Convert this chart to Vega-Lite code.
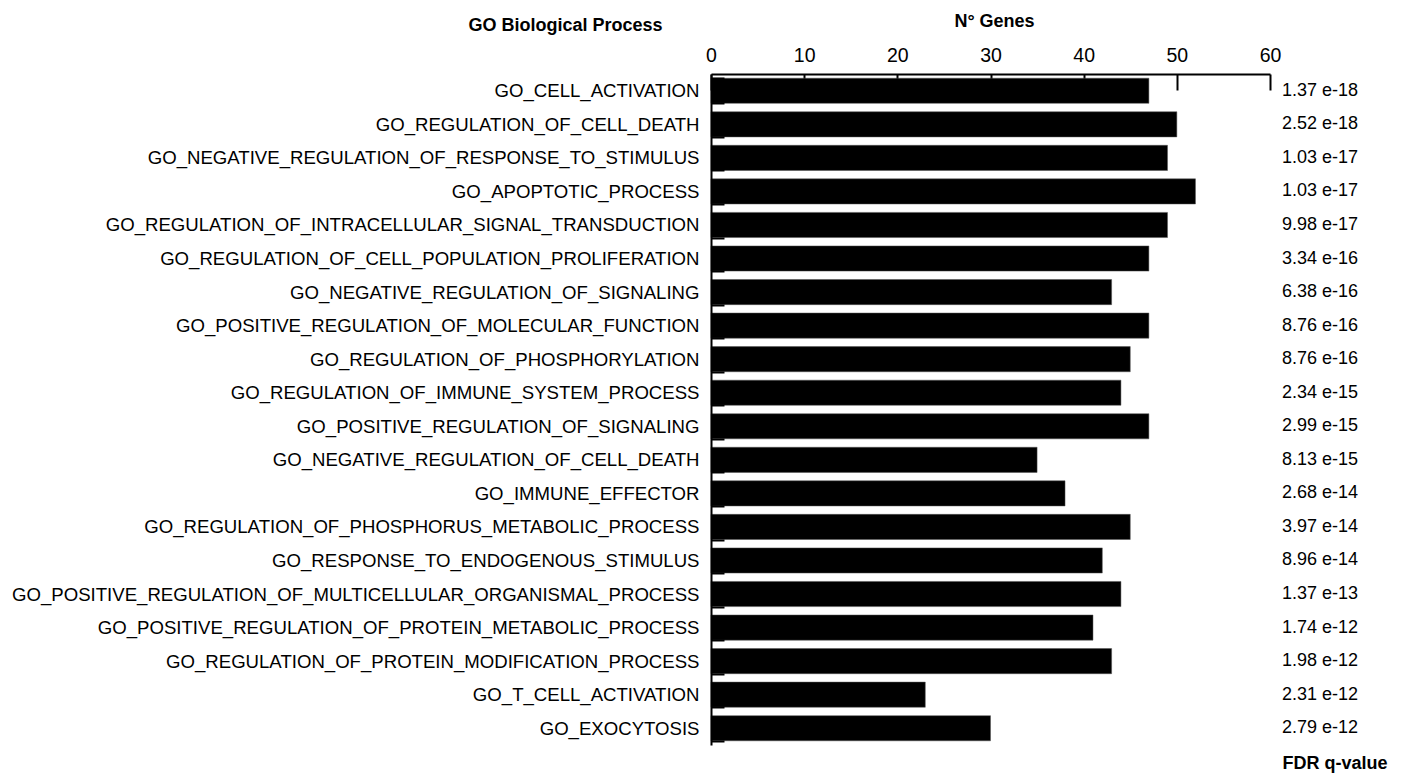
{
  "$schema": "https://vega.github.io/schema/vega-lite/v6.json",
  "width": 559,
  "height": 671,
  "autosize": {"type": "none"},
  "padding": {"left": 711, "top": 74, "right": 140, "bottom": 31},
  "background": "white",
  "config": {
    "view": {"stroke": null},
    "font": "Liberation Sans",
    "axis": {"labelFont": "Liberation Sans", "titleFont": "Liberation Sans", "labelColor": "#000", "titleColor": "#000", "domainColor": "#000", "tickColor": "#000", "grid": false}
  },
  "data": {
    "values": [
      {"term": "GO_CELL_ACTIVATION", "genes": 47, "fdr": "1.37 e-18"},
      {"term": "GO_REGULATION_OF_CELL_DEATH", "genes": 50, "fdr": "2.52 e-18"},
      {"term": "GO_NEGATIVE_REGULATION_OF_RESPONSE_TO_STIMULUS", "genes": 49, "fdr": "1.03 e-17"},
      {"term": "GO_APOPTOTIC_PROCESS", "genes": 52, "fdr": "1.03 e-17"},
      {"term": "GO_REGULATION_OF_INTRACELLULAR_SIGNAL_TRANSDUCTION", "genes": 49, "fdr": "9.98 e-17"},
      {"term": "GO_REGULATION_OF_CELL_POPULATION_PROLIFERATION", "genes": 47, "fdr": "3.34 e-16"},
      {"term": "GO_NEGATIVE_REGULATION_OF_SIGNALING", "genes": 43, "fdr": "6.38 e-16"},
      {"term": "GO_POSITIVE_REGULATION_OF_MOLECULAR_FUNCTION", "genes": 47, "fdr": "8.76 e-16"},
      {"term": "GO_REGULATION_OF_PHOSPHORYLATION", "genes": 45, "fdr": "8.76 e-16"},
      {"term": "GO_REGULATION_OF_IMMUNE_SYSTEM_PROCESS", "genes": 44, "fdr": "2.34 e-15"},
      {"term": "GO_POSITIVE_REGULATION_OF_SIGNALING", "genes": 47, "fdr": "2.99 e-15"},
      {"term": "GO_NEGATIVE_REGULATION_OF_CELL_DEATH", "genes": 35, "fdr": "8.13 e-15"},
      {"term": "GO_IMMUNE_EFFECTOR", "genes": 38, "fdr": "2.68 e-14"},
      {"term": "GO_REGULATION_OF_PHOSPHORUS_METABOLIC_PROCESS", "genes": 45, "fdr": "3.97 e-14"},
      {"term": "GO_RESPONSE_TO_ENDOGENOUS_STIMULUS", "genes": 42, "fdr": "8.96 e-14"},
      {"term": "GO_POSITIVE_REGULATION_OF_MULTICELLULAR_ORGANISMAL_PROCESS", "genes": 44, "fdr": "1.37 e-13"},
      {"term": "GO_POSITIVE_REGULATION_OF_PROTEIN_METABOLIC_PROCESS", "genes": 41, "fdr": "1.74 e-12"},
      {"term": "GO_REGULATION_OF_PROTEIN_MODIFICATION_PROCESS", "genes": 43, "fdr": "1.98 e-12"},
      {"term": "GO_T_CELL_ACTIVATION", "genes": 23, "fdr": "2.31 e-12"},
      {"term": "GO_EXOCYTOSIS", "genes": 30, "fdr": "2.79 e-12"}
    ]
  },
  "resolve": {"axis": {"y": "independent"}},
  "layer": [
    {
      "mark": {"type": "bar", "color": "#000", "stroke": "#555", "strokeWidth": 0.5},
      "encoding": {
        "y": {
          "field": "term", "type": "nominal", "sort": null,
          "scale": {"paddingInner": 0.25, "paddingOuter": 0.125},
          "axis": {
            "orient": "left", "zindex": 1,
            "title": "GO Biological Process", "titleAngle": 0, "titleFontSize": 18, "titleFontWeight": "bold",
            "titleX": -146, "titleY": -44, "titleAlign": "center", "titleBaseline": "alphabetic",
            "labelFontSize": 18.6, "labelPadding": 25, "labelLimit": 800,
            "tickBand": "extent", "tickSize": -13, "tickWidth": 2, "domainWidth": 2
          }
        },
        "x": {
          "field": "genes", "type": "quantitative",
          "scale": {"domain": [0, 60], "nice": false},
          "axis": {
            "orient": "top", "values": [0, 10, 20, 30, 40, 50, 60],
            "title": "N° Genes", "titleFontSize": 18, "titleFontWeight": "bold",
            "titleX": 283, "titleY": -48, "titleBaseline": "alphabetic",
            "labelFontSize": 19.5, "labelPadding": 25, "labelFlush": false,
            "tickSize": -16, "tickWidth": 2, "domainWidth": 2
          }
        }
      }
    },
    {
      "mark": {"type": "text", "align": "left", "baseline": "middle", "dx": 12, "fontSize": 18, "font": "Liberation Sans", "color": "#000"},
      "encoding": {
        "y": {
          "field": "term", "type": "nominal", "sort": null,
          "axis": {
            "orient": "right", "labels": false, "ticks": false, "domain": false,
            "title": "FDR q-value", "titleAngle": 0, "titleFontSize": 18, "titleFontWeight": "bold",
            "titleX": 12, "titleY": 694, "titleAlign": "left", "titleBaseline": "alphabetic"
          }
        },
        "x": {"datum": 60, "type": "quantitative"},
        "text": {"field": "fdr"}
      }
    }
  ]
}
